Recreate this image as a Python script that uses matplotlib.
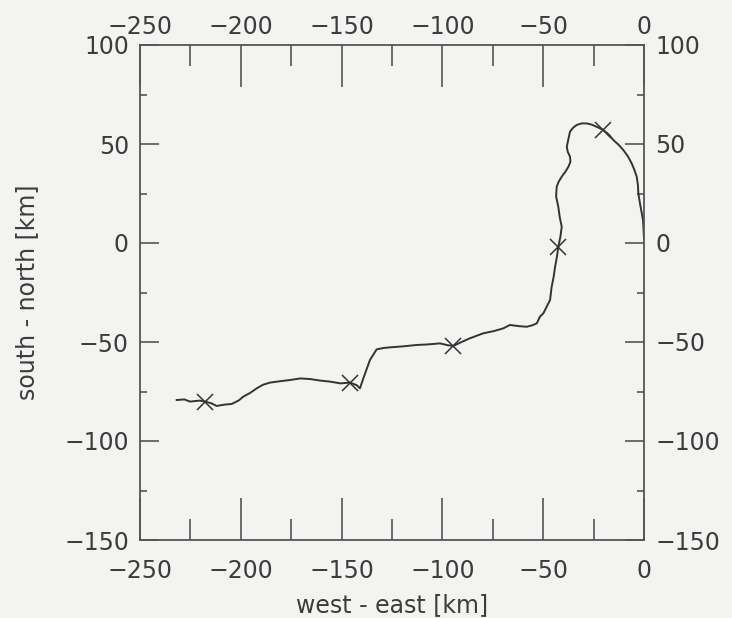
import numpy as np
import matplotlib.pyplot as plt

# ###########################################################
# Data (km)
# ###########################################################

# trajectory, west-east and south-north positions
track_x = [-231.8, -228.0, -225.2, -220.5, -217.8, -214.5, -212.0, -208.0,
           -204.5, -201.0, -198.8, -195.5, -192.1, -189.0, -185.5, -180.5,
           -175.6, -170.5, -165.7, -160.5, -155.8, -150.5, -145.8, -142.5,
           -140.9, -139.2, -137.5, -135.9, -132.6, -129.0, -126.0, -119.5,
           -112.7, -107.0, -101.2, -97.5, -94.6, -90.5, -86.3, -79.7, -74.5,
           -69.8, -66.5, -62.0, -58.2, -55.5, -53.2, -51.6, -49.9, -48.3,
           -46.6, -45.8, -44.8, -44.1, -43.2, -42.5, -41.5, -40.8, -41.8,
           -42.5, -43.6, -43.3, -42.3, -40.8, -39.0, -37.5, -36.5, -36.7,
           -37.8, -38.3, -37.5, -36.7, -35.2, -33.4, -31.0, -28.4, -26.0,
           -23.5, -20.2, -17.5, -15.2, -12.5, -10.3, -8.0, -6.1, -4.8, -3.6,
           -3.0, -2.8, -2.0, -1.1, -0.5, -0.3, 0.0]
track_y = [-79.3, -79.0, -80.1, -79.6, -80.1, -81.0, -82.3, -81.6, -81.3,
           -79.5, -77.6, -75.8, -73.4, -71.6, -70.5, -69.8, -69.2, -68.4,
           -68.7, -69.5, -70.0, -70.9, -70.5, -71.8, -73.4, -68.3, -63.5,
           -59.0, -53.7, -53.0, -52.7, -52.2, -51.5, -51.2, -50.7, -51.6,
           -52.0, -50.0, -48.1, -45.6, -44.5, -43.1, -41.4, -42.0, -42.3,
           -41.6, -40.6, -37.2, -35.5, -32.2, -28.8, -22.1, -17.0, -12.0,
           -7.0, -1.9, 3.0, 8.2, 13.0, 18.3, 23.5, 28.4, 31.0, 33.5, 36.0,
           38.5, 41.0, 43.6, 46.0, 48.6, 52.5, 56.2, 58.2, 59.6, 60.4, 60.4,
           59.8, 58.7, 57.1, 54.8, 52.0, 49.5, 47.0, 43.8, 40.2, 37.0, 33.5,
           29.0, 25.1, 20.0, 15.0, 11.5, 8.2, 2.0]

# cross markers along the track
mark_x = [-217.8, -145.8, -94.6, -42.5, -20.2]
mark_y = [-80.1, -70.5, -52.0, -1.9, 57.1]

# axis ranges and ticks
xlim = (-250, 0)
ylim = (-150, 100)
xticks = np.arange(-250, 1, 50)
yticks = np.arange(-150, 101, 50)
xminor = np.arange(-250, 1, 25)
yminor = np.arange(-150, 101, 25)

# ###########################################################
# Plot
# ###########################################################

plt.rcParams["font.family"] = ["DejaVu Sans"]
ink = "#3c3c3c"
bg = "#f3f3f1"

fig = plt.figure(figsize=(7.32, 6.18), dpi=100, facecolor=bg)
ax = fig.add_axes([140 / 732, 1 - 540 / 618, 504 / 732, 495 / 618])
ax.set_facecolor(bg)

ax.plot(track_x, track_y, color="#333333", lw=1.4)
ax.plot(mark_x, mark_y, ls="none", marker="x", ms=12, mew=1.1, color="#333333")

ax.set_xlim(*xlim)
ax.set_ylim(*ylim)
ax.set_xticks(xticks)
ax.set_yticks(yticks)
ax.set_xticks(xminor, minor=True)
ax.set_yticks(yminor, minor=True)

for s in ax.spines.values():
    s.set_color("#555555")
    s.set_linewidth(1.3)

# ticks on all sides, pointing inwards
ax.tick_params(axis="both", which="both", direction="in", top=True, right=True,
               color="#555555", width=1.2, labelcolor=ink, labelsize=17)
ax.tick_params(axis="x", which="major", length=30, pad=14)
ax.tick_params(axis="x", which="minor", length=15)
ax.tick_params(axis="y", which="major", length=14, pad=8)
ax.tick_params(axis="y", which="minor", length=5)

# labels on the top and right
top = ax.secondary_xaxis("top")
top.set_xticks(xticks)
top.tick_params(length=0, pad=4, labelsize=17, labelcolor=ink)
top.spines["top"].set_visible(False)
right = ax.secondary_yaxis("right")
right.set_yticks(yticks)
right.tick_params(length=0, pad=8, labelsize=17, labelcolor=ink)
right.spines["right"].set_visible(False)

ax.set_xlabel("west - east [km]", fontsize=17, color=ink, labelpad=7)
ax.set_ylabel("south - north [km]", fontsize=17, color=ink, labelpad=18)

fig.savefig("out.png", dpi=100, facecolor=bg)
